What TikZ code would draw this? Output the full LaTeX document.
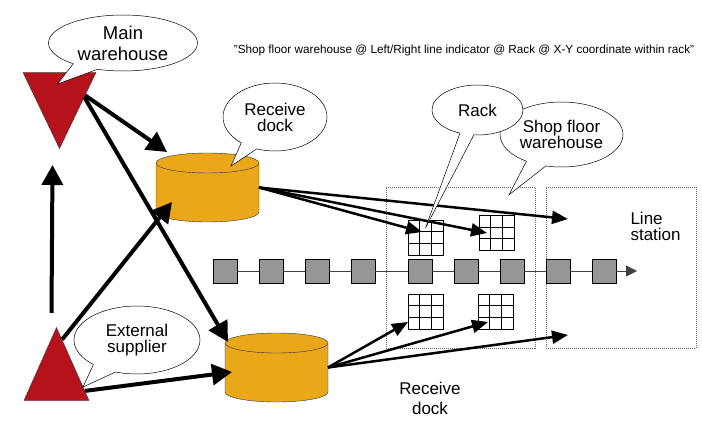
\documentclass[tikz,border=0pt]{standalone}
\usepackage{fontspec}
\setmainfont{Liberation Sans}
\usetikzlibrary{shapes.geometric,shapes.callouts,arrows.meta,calc}

\definecolor{sitered}{RGB}{181,18,27}
\definecolor{dockorange}{RGB}{233,167,25}
\definecolor{convgray}{RGB}{150,150,150}

\tikzstyle{site}=[isosceles triangle, isosceles triangle stretches, draw=black!80, fill=sitered, inner sep=0pt]
\tikzstyle{dockbox}=[rectangle, minimum width=103pt, minimum height=69pt, inner sep=0pt, outer sep=0pt]
\tikzstyle{bubble}=[ellipse callout, draw, fill=white, line width=0.5pt, align=center, inner sep=0pt]
\tikzstyle{rack}=[draw, line width=0.8pt, minimum size=35pt, inner sep=0pt, path picture={
  \foreach \f in {0.3333,0.6667}{
    \draw[line width=0.8pt] ($(path picture bounding box.north west)!\f!(path picture bounding box.north east)$) -- ($(path picture bounding box.south west)!\f!(path picture bounding box.south east)$);
    \draw[line width=0.8pt] ($(path picture bounding box.north west)!\f!(path picture bounding box.south west)$) -- ($(path picture bounding box.north east)!\f!(path picture bounding box.south east)$);
  }}]
\tikzstyle{station}=[draw, fill=convgray, minimum size=24pt, inner sep=0pt]
\tikzstyle{zone}=[draw=black!60, dash pattern=on 1pt off 1pt, minimum height=161pt, inner sep=0pt]
\tikzstyle{feed}=[line width=4pt, -{Triangle[length=20pt,width=21pt]}]
\tikzstyle{supply}=[line width=2.5pt, -{Triangle[length=16pt,width=13pt]}]

% receive dock drum: name, x, y
\newcommand{\dockat}[3]{
  \node[dockbox] (#1) at (#2,#3) {};
  \filldraw[draw=black!80, fill=dockorange] ($(#1.north west)+(0,10)$) -- ($(#1.south west)+(0,-10)$)
    arc[start angle=180, end angle=0, x radius=51.5, y radius=10] -- ($(#1.north east)+(0,10)$)
    arc[start angle=0, end angle=-180, x radius=51.5, y radius=10] -- cycle;
  \draw[black!80] ($(#1.north west)+(0,10)$) arc[start angle=180, end angle=0, x radius=51.5, y radius=10];
}

\begin{document}
\begin{tikzpicture}[x=1pt,y=-1pt]
\useasboundingbox (0,0) rectangle (702,433);

% shop floor and line
\node[zone, minimum width=149pt] (sfw) at (460.5,267.5) {};
\node[zone, minimum width=150pt] (ls) at (621,267.5) {};

\foreach \n/\x in {1/225,2/271,3/317,4/363,5/420,6/466,7/512,8/558,9/604}
  \node[station] (q\n) at (\x,271) {};
\coordinate (qend) at (637,271);
\foreach \a/\b in {1/2,2/3,3/4,4/5,5/6,6/7,7/8,8/9}
  \draw[black!75, line width=0.8pt] (q\a) -- (q\b);
\draw[black!75, line width=0.8pt, -{Triangle[length=11pt,width=11pt]}] (q9) -- (qend);

\node[rack] (r1) at (425.5,237.5) {};
\node[rack] (r2) at (496.5,233) {};
\node[rack] (r3) at (425.5,311.5) {};
\node[rack] (r4) at (495.5,311.5) {};

% warehouses and docks
\node[site, shape border rotate=270, minimum width=73pt, minimum height=76pt, anchor=apex] (mw) at (59.5,149) {};
\node[site, shape border rotate=90, minimum width=65pt, minimum height=73pt, anchor=apex] (es) at (56.5,327) {};

\dockat{d1}{207.5}{187.5}
\dockat{d2}{276.5}{367.5}

\draw[feed] ($(es.apex)+(-5,-14)$) -- ($(mw.apex)+(-7,16)$);
\draw[feed] (mw.0) -- ($(d1.center)+(-40.5,-35.5)$);
\draw[feed] (mw.-4) -- ($(d2.center)+(-48.5,-25.5)$);
\draw[feed] (es.82) -- ($(d1.center)+(-35.5,14.5)$);
\draw[feed] (es.-22) -- ($(d2.center)+(-44.5,4.5)$);

\draw[supply] (d1.east) -- ($(r1.center)+(-3.5,-5.5)$);
\draw[supply] (d1.east) -- ($(r2.center)+(-9.5,0)$);
\draw[supply] (d1.east) -- ($(ls.center)+(-53,-48.5)$);
\draw[supply] (d2.east) -- ($(r3.center)+(-17.5,10.5)$);
\draw[supply] (d2.east) -- ($(r4.center)+(-7.5,10.5)$);
\draw[supply] (d2.east) -- ($(ls.center)+(-53,67.5)$);

% callouts
\node[bubble, minimum width=149pt, minimum height=56pt, callout pointer arc=22, font=\fontsize{18.5}{21}\selectfont,
  callout absolute pointer={($(mw.apex)+(-2,-65)$)}] (mwlabel) at (123,43) {Main\\warehouse};
\node[bubble, minimum width=104pt, minimum height=68pt, callout pointer arc=20, font=\fontsize{17}{16}\selectfont,
  callout absolute pointer={($(d1.center)+(23.5,-21.5)$)}] (d1label) at (275,117) {Receive\\dock};
\node[bubble, minimum width=126pt, minimum height=68pt, callout pointer arc=24, font=\fontsize{17}{16}\selectfont,
  callout absolute pointer={($(es.apex)+(26.5,60)$)}] (eslabel) at (137,340) {External\\supplier};
\node[bubble, minimum width=123pt, minimum height=65pt, callout pointer arc=20, font=\fontsize{17}{16}\selectfont,
  callout absolute pointer={($(sfw.north)+(48.5,8)$)}] (sfwlabel) at (561.5,134.5) {Shop floor\\warehouse};
\node[bubble, minimum width=91pt, minimum height=50pt, callout pointer arc=18, font=\fontsize{17}{16}\selectfont,
  callout absolute pointer={($(r1.center)+(0,-9.5)$)}] (racklabel) at (477.5,110) {Rack};

% plain labels
\node[align=left, anchor=west, font=\fontsize{17}{16}\selectfont] (lslabel) at (627,226) {Line\\station};
\node[align=center, font=\fontsize{17}{20}\selectfont] (d2label) at (430,398) {Receive\\dock};
\node[font=\fontsize{11.75}{14}\selectfont] (code) at (464,50) {"Shop floor warehouse @ Left/Right line indicator @ Rack @ X-Y coordinate within rack"};
\end{tikzpicture}
\end{document}
